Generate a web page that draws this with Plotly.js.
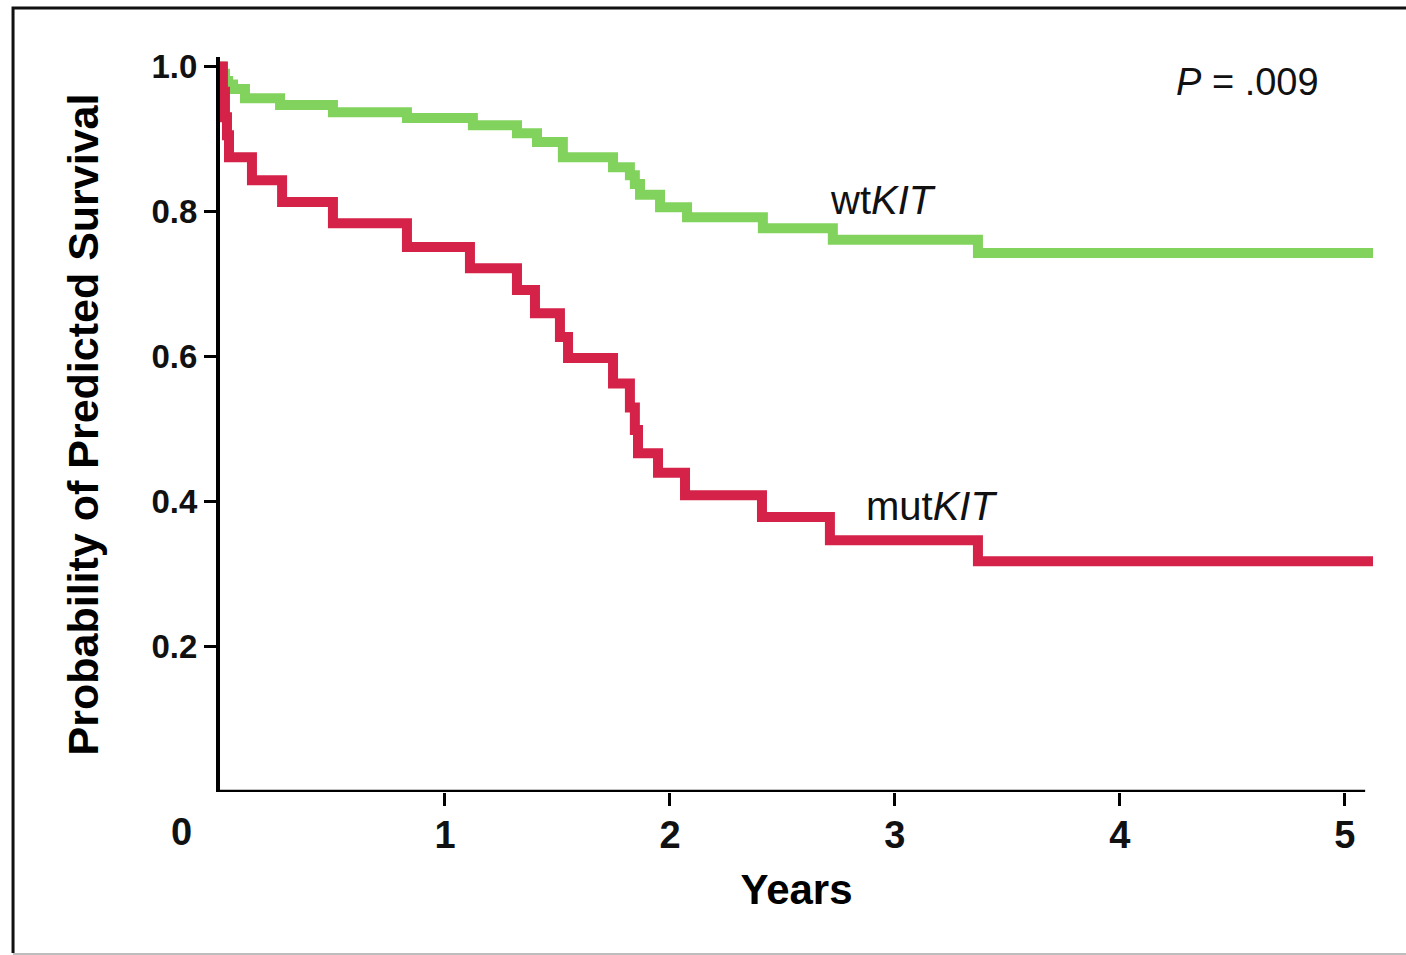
<!DOCTYPE html>
<html>
<head>
<meta charset="utf-8">
<script src="https://cdn.plot.ly/plotly-3.0.1.min.js"></script>
<style>
  html, body { margin: 0; padding: 0; background: #fff; }
  #chart { width: 1406px; height: 955px; }
</style>
</head>
<body>
<div id="chart"></div>
<script>
// ---- Data ----
const wtYears = [0, 0.010, 0.022, 0.036, 0.058, 0.111, 0.267, 0.502, 0.831, 1.124, 1.320, 1.409, 1.524, 1.747, 1.822, 1.844, 1.867, 1.956, 2.076, 2.413, 2.724, 3.369, 5.125];
const wtSurv  = [1.0, 0.990, 0.980, 0.975, 0.969, 0.956, 0.947, 0.937, 0.929, 0.919, 0.908, 0.896, 0.875, 0.861, 0.850, 0.838, 0.823, 0.806, 0.792, 0.777, 0.761, 0.743, 0.743];

const mutYears = [0, 0.013, 0.022, 0.031, 0.040, 0.142, 0.276, 0.502, 0.831, 1.111, 1.320, 1.400, 1.511, 1.547, 1.747, 1.822, 1.844, 1.858, 1.947, 2.067, 2.409, 2.711, 3.369, 5.125];
const mutSurv  = [1.0, 0.965, 0.930, 0.905, 0.875, 0.843, 0.813, 0.784, 0.751, 0.722, 0.692, 0.660, 0.627, 0.598, 0.563, 0.530, 0.499, 0.467, 0.440, 0.409, 0.379, 0.347, 0.318, 0.318];

const xTickVals = [1, 2, 3, 4, 5];
const xTickText = ['1', '2', '3', '4', '5'];
const yTickVals = [0.2, 0.4, 0.6, 0.8, 1.0];
const yTickText = ['0.2', '0.4', '0.6', '0.8', '1.0'];
const originLabel = '0';

const pValueText = '<i>P</i> = .009';
const wtLabel = 'wt<i>KIT</i>';
const mutLabel = 'mut<i>KIT</i>';

// ---- Styles ----
const GREEN = 'rgb(130,211,94)';
const RED = 'rgb(213,34,72)';
const FONT = 'Liberation Sans, Arial, Helvetica, sans-serif';

const traces = [
  {
    x: wtYears, y: wtSurv, type: 'scatter', mode: 'lines', name: 'wtKIT',
    line: { shape: 'hv', color: GREEN, width: 10 }
  },
  {
    x: mutYears, y: mutSurv, type: 'scatter', mode: 'lines', name: 'mutKIT',
    line: { shape: 'hv', color: RED, width: 10 }
  }
];

const layout = {
  width: 1406, height: 955,
  margin: { l: 220, r: 33, t: 57, b: 163 },
  paper_bgcolor: '#fff', plot_bgcolor: '#fff',
  showlegend: false,
  xaxis: {
    range: [0, 5.125], fixedrange: true,
    showgrid: false, zeroline: false, showline: false,
    tickmode: 'array', tickvals: xTickVals, ticktext: xTickText,
    ticks: 'outside', ticklen: 13, tickwidth: 3, tickcolor: '#000',
    ticklabelstandoff: -4,
    tickfont: { family: FONT, size: 38, color: '#111', weight: 'bold' },
    title: { text: 'Years', font: { family: FONT, size: 42, color: '#000', weight: 'bold' }, standoff: 20 }
  },
  yaxis: {
    range: [0, 1.013], fixedrange: true,
    showgrid: false, zeroline: false,
    showline: true, linecolor: '#000', linewidth: 4,
    tickmode: 'array', tickvals: yTickVals, ticktext: yTickText,
    ticks: 'outside', ticklen: 12, tickwidth: 3, tickcolor: '#000',
    tickfont: { family: FONT, size: 33, color: '#111', weight: 'bold' },
    title: { text: 'Probability of Predicted Survival', font: { family: FONT, size: 43, color: '#000', weight: 'bold' }, standoff: 40 }
  },
  shapes: [
    // x-axis line (stops short of the plotted curves, as in the reference)
    { type: 'line', xref: 'x', yref: 'y', x0: 0, x1: 5.09, y0: 0, y1: 0,
      line: { color: '#000', width: 4.5 } },
    // outer frame: left and top
    { type: 'path', xref: 'paper', yref: 'paper',
      path: 'M -0.1795 -0.219 L -0.1795 1.0667 L 1.05 1.0667',
      line: { color: '#111', width: 3 } },
    // bottom frame line (light grey)
    { type: 'line', xref: 'paper', yref: 'paper', x0: -0.1795, x1: 1.05, y0: -0.2205, y1: -0.2205,
      line: { color: '#bdbdbd', width: 2 } }
  ],
  annotations: [
    { text: originLabel, xref: 'paper', yref: 'paper', x: -0.033, y: 0, yshift: -40, showarrow: false,
      xanchor: 'center', yanchor: 'middle', font: { family: FONT, size: 38, color: '#111', weight: 'bold' } },
    { text: pValueText, xref: 'x', yref: 'y', x: 4.569, y: 0.978, showarrow: false,
      xanchor: 'center', yanchor: 'middle', font: { family: FONT, size: 38, color: '#111' } },
    { text: wtLabel, xref: 'x', yref: 'y', x: 2.947, y: 0.816, showarrow: false,
      xanchor: 'center', yanchor: 'middle', font: { family: FONT, size: 40, color: '#111' } },
    { text: mutLabel, xref: 'x', yref: 'y', x: 3.164, y: 0.394, showarrow: false,
      xanchor: 'center', yanchor: 'middle', font: { family: FONT, size: 40, color: '#111' } }
  ]
};

Plotly.newPlot('chart', traces, layout, { displayModeBar: false, staticPlot: true });
</script>
</body>
</html>
